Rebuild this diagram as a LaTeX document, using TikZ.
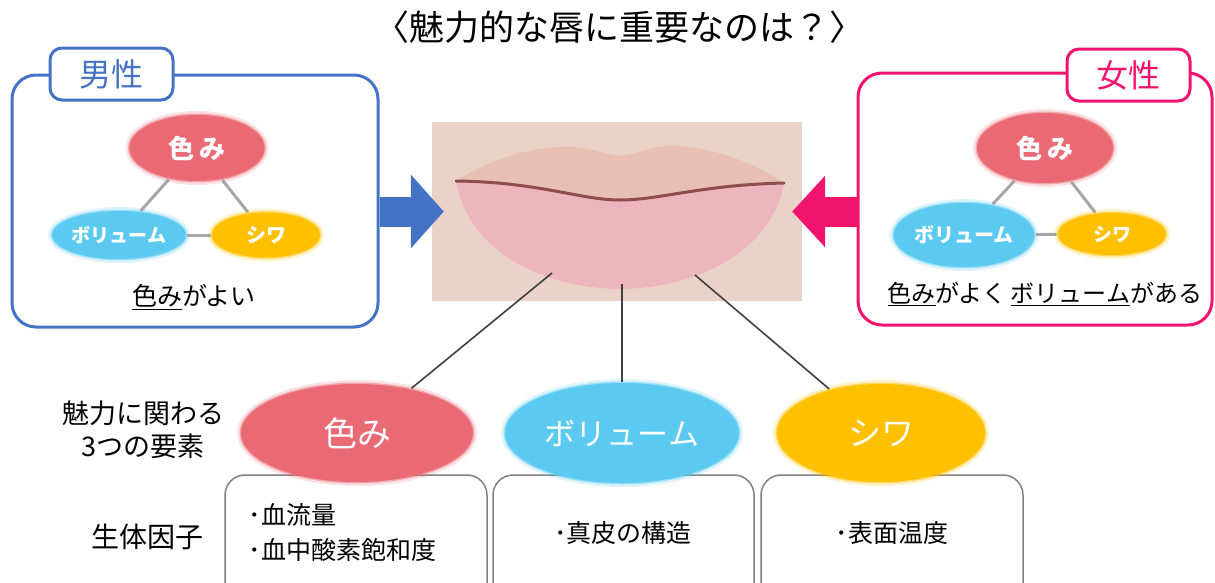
\documentclass[tikz,border=0pt]{standalone}
\usepackage{fontspec}
\setmainfont{Noto Sans CJK JP}
\usetikzlibrary{arrows.meta,shapes.geometric}
\definecolor{maleblue}{HTML}{4472C4}
\definecolor{femalepink}{HTML}{F2136E}
\definecolor{rose}{HTML}{E96A75}
\definecolor{sky}{HTML}{5BC9F0}
\definecolor{gold}{HTML}{FFC000}
\definecolor{skin}{HTML}{EAD2C6}
\definecolor{upperlip}{HTML}{E7BFB3}
\definecolor{lowerlip}{HTML}{EDB6BF}
\definecolor{lipline}{HTML}{8E4C4A}
\newcommand{\fs}[1]{\fontsize{#1}{#1}\selectfont}
\begin{document}
\begin{tikzpicture}[x=1pt,y=-1pt,panel/.style={draw=#1, line width=3pt, rounded corners=24pt},tag/.style={draw=#1, fill=white, text=#1, line width=3pt, rounded corners=12pt, minimum width=123pt, minimum height=52pt, font=\fs{32}},blob/.style={ellipse, fill=#1, draw=#1, draw opacity=.5, line width=3pt, preaction={draw=#1, draw opacity=.2, line width=8pt}, text=white, inner sep=0pt},link/.style={draw=black!35, line width=3pt},pointer/.style={draw=black!75, line width=1.6pt},factor/.style={draw=black!50, line width=1.5pt, rounded corners=20pt, minimum width=262pt, minimum height=130pt}]
\clip (0,0) rectangle (1215,582);
\node (title) at (619,27) {\fs{35}〈魅力的な唇に重要なのは？〉};
% photo of the lips
\node[fill=skin, minimum width=370pt, minimum height=179pt, inner sep=0pt] (photo) at (617,211.5) {};
\fill[upperlip] (456,181) .. controls (490,160) and (530,146) .. (570,147) .. controls (595,148) and (608,156) .. (620,156) .. controls (632,156) and (648,146) .. (675,146) .. controls (715,147) and (760,166) .. (784,183) .. controls (700,185) and (660,200) .. (620,200) .. controls (580,200) and (540,182) .. (456,181) -- cycle;
\fill[lowerlip] (456,181) .. controls (540,182) and (580,200) .. (620,200) .. controls (660,200) and (700,185) .. (784,183) .. controls (772,250) and (700,288) .. (620,289) .. controls (540,288) and (468,250) .. (456,181) -- cycle;
\draw[lipline, line width=3pt, line cap=round] (456,181) .. controls (540,182) and (580,200) .. (620,200) .. controls (660,200) and (700,185) .. (784,183);
% men
\node[panel=maleblue, minimum width=366pt, minimum height=252pt] (male) at (195,201) {};
\node[tag=maleblue] (maletag) at (111.5,74) {男性};
\node[blob=rose, minimum width=135pt, minimum height=66pt, font=\bfseries\fs{26}] (mcol) at (197,148) {色\,み};
\node[blob=sky, minimum width=110pt, minimum height=48pt, font=\bfseries\fs{19}] (mvol) at (119,235) {ボリューム};
\node[blob=gold, minimum width=108pt, minimum height=45pt, font=\bfseries\fs{20}] (mwr) at (266,235) {シワ};
\draw[link] (mcol) -- (mvol);
\draw[link] (mcol) -- (mwr);
\draw[link] (mvol) -- (mwr);
\node[font=\fs{25}] (mtxt) at (194,297) {\underline{色み}がよい};
% women
\node[panel=femalepink, minimum width=354pt, minimum height=252pt] (female) at (1035,199) {};
\node[tag=femalepink] (femaletag) at (1128.5,75) {女性};
\node[blob=rose, minimum width=136pt, minimum height=70pt, font=\bfseries\fs{26}] (fcol) at (1045,148) {色\,み};
\node[blob=sky, minimum width=120pt, minimum height=64pt, font=\bfseries\fs{20}] (fvol) at (964,235) {ボリューム};
\node[blob=gold, minimum width=108pt, minimum height=42pt, font=\bfseries\fs{19}] (fwr) at (1112,234) {シワ};
\draw[link] (fcol) -- (fvol);
\draw[link] (fcol) -- (fwr);
\draw[link] (fvol) -- (fwr);
\node[font=\fs{24}] (ftxt) at (1045,294) {\underline{色み}がよく\,\underline{ボリューム}がある};
\draw[maleblue, line width=30pt, -{Triangle[length=33pt,width=72pt]}] (male.east |- photo.west) -- ([xshift=12pt]photo.west);
\draw[femalepink, line width=30pt, -{Triangle[length=33pt,width=70pt]}] (female.west |- photo.east) -- ([xshift=-10pt]photo.east);
% three elements
\node[factor] (b1) at (356,540) {};
\node[factor, minimum width=261pt] (b2) at (623.5,540) {};
\node[factor] (b3) at (892,540) {};
\coordinate (lipL) at (552,273);
\coordinate (lipM) at (622,284);
\coordinate (lipR) at (695,275);
\node[blob=rose, minimum width=232pt, minimum height=98pt, font=\fs{34}] (iro) at (357,433) {色み};
\node[blob=sky, minimum width=234pt, minimum height=100pt, font=\fs{31}] (vol) at (622,433) {ボリューム};
\node[blob=gold, minimum width=208pt, minimum height=98pt, font=\fs{33}] (wr) at (881,433) {シワ};
\draw[pointer] (lipL) -- (iro);
\draw[pointer] (lipM) -- (vol);
\draw[pointer] (lipR) -- (wr);
\node[font=\fontsize{27}{33}\selectfont, align=center] (elem) at (143,430) {魅力に関わる\\3つの要素};
\node[font=\fs{28}] (bio) at (147,537) {生体因子};
\node[font=\fontsize{25}{35}\selectfont, align=left, anchor=west] (b1t) at (245,533) {･血流量\\･血中酸素飽和度};
\node[font=\fs{25}] (b2t) at (623,533) {･真皮の構造};
\node[font=\fs{25}] (b3t) at (892,533) {･表面温度};
\end{tikzpicture}
\end{document}
